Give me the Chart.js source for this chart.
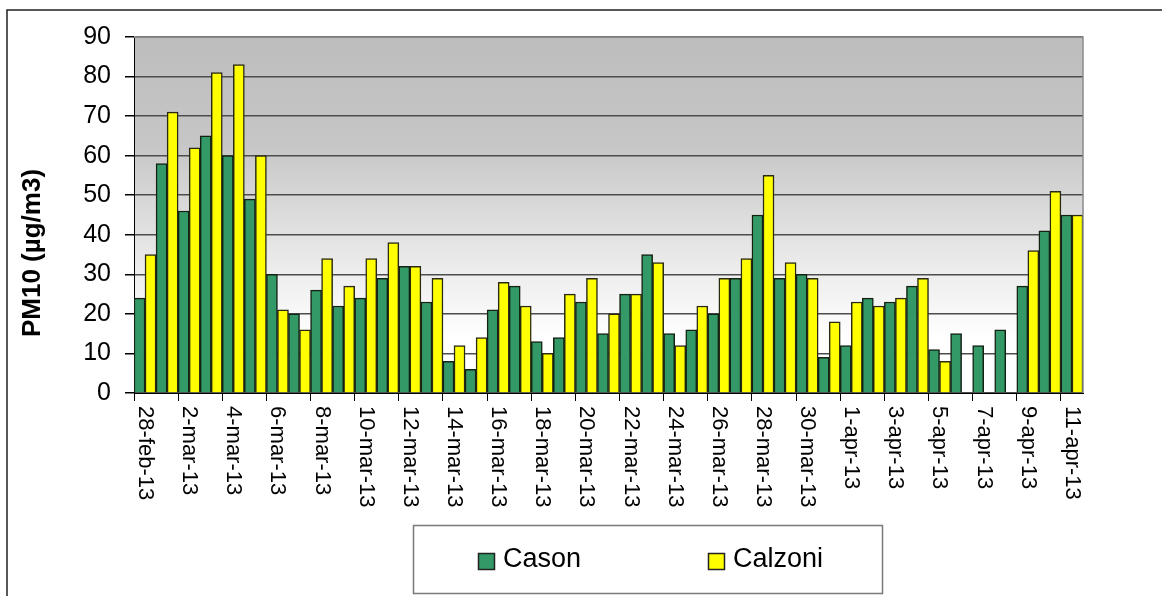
<!DOCTYPE html>
<html>
<head>
<meta charset="utf-8">
<title>PM10 Cason / Calzoni</title>
<script src="https://cdn.jsdelivr.net/npm/chart.js@4.4.1/dist/chart.umd.min.js"></script>
<style>
  html, body { margin: 0; padding: 0; background: #fff; }
  canvas { display: block; }
</style>
</head>
<body>
<canvas id="pmChart" width="1162" height="596"></canvas>
<script>
const categories = [
  '28-feb-13', '1-mar-13', '2-mar-13', '3-mar-13', '4-mar-13', '5-mar-13', '6-mar-13',
  '7-mar-13', '8-mar-13', '9-mar-13', '10-mar-13', '11-mar-13', '12-mar-13', '13-mar-13',
  '14-mar-13', '15-mar-13', '16-mar-13', '17-mar-13', '18-mar-13', '19-mar-13', '20-mar-13',
  '21-mar-13', '22-mar-13', '23-mar-13', '24-mar-13', '25-mar-13', '26-mar-13', '27-mar-13',
  '28-mar-13', '29-mar-13', '30-mar-13', '31-mar-13', '1-apr-13', '2-apr-13', '3-apr-13',
  '4-apr-13', '5-apr-13', '6-apr-13', '7-apr-13', '8-apr-13', '9-apr-13', '10-apr-13', '11-apr-13'
];
const casonValues = [
  24, 58, 46, 65, 60, 49, 30, 20, 26, 22, 24, 29, 32, 23, 8, 6, 21, 27, 13, 14, 23, 15,
  25, 35, 15, 16, 20, 29, 45, 29, 30, 9, 12, 24, 23, 27, 11, 15, 12, 16, 27, 41, 45
];
const calzoniValues = [
  35, 71, 62, 81, 83, 60, 21, 16, 34, 27, 34, 38, 32, 29, 12, 14, 28, 22, 10, 25, 29, 20,
  25, 33, 12, 22, 29, 34, 55, 33, 29, 18, 23, 22, 24, 29, 8, null, null, null, 36, 51, 45
];
const seriesNames = ['Cason', 'Calzoni'];
const yAxisTitle = 'PM10 (µg/m3)';
const yTickMin = 0, yTickMax = 90, yTickStep = 10;

const FONT = 'Arial, "Liberation Sans", sans-serif';
const GREEN = '#339966';
const YELLOW = '#ffff00';

// background, outer frame, gradient plot area
const backdrop = {
  id: 'backdrop',
  beforeDraw(chart) {
    const ctx = chart.ctx;
    const a = chart.chartArea;
    ctx.save();
    ctx.fillStyle = '#fff';
    ctx.fillRect(0, 0, chart.width, chart.height);
    const g = ctx.createLinearGradient(0, a.top, 0, a.bottom);
    g.addColorStop(0, '#bdbdbd');
    g.addColorStop(0.3, '#c6c6c6');
    g.addColorStop(0.65, '#ececec');
    g.addColorStop(0.85, '#ffffff');
    g.addColorStop(1, '#ffffff');
    ctx.fillStyle = g;
    ctx.fillRect(a.left, a.top, a.right - a.left, a.bottom - a.top);
    ctx.strokeStyle = '#222';
    ctx.lineWidth = 1.5;
    ctx.beginPath();
    ctx.moveTo(7, chart.height);
    ctx.lineTo(7, 10);
    ctx.lineTo(chart.width, 10);
    ctx.stroke();
    ctx.restore();
  }
};

// axis title, rotated date labels, plot border and the boxed legend
const extras = {
  id: 'extras',
  afterDraw(chart) {
    const ctx = chart.ctx;
    const a = chart.chartArea;
    const xs = chart.scales.x;
    ctx.save();
    ctx.strokeStyle = '#8a8a8a';
    ctx.lineWidth = 1.5;
    ctx.beginPath();
    ctx.moveTo(a.left, a.top);
    ctx.lineTo(a.right, a.top);
    ctx.lineTo(a.right, a.bottom);
    ctx.stroke();

    // y title
    ctx.fillStyle = '#000';
    ctx.font = 'bold 26px ' + FONT;
    ctx.textAlign = 'center';
    ctx.textBaseline = 'middle';
    ctx.save();
    ctx.translate(33, 253);
    ctx.rotate(-Math.PI / 2);
    ctx.fillText(yAxisTitle, 0, 0);
    ctx.restore();

    ctx.font = '22px ' + FONT;
    ctx.textAlign = 'left';
    categories.forEach((c, i) => {
      if (i % 2) return;
      ctx.save();
      ctx.translate(xs.getPixelForValue(i), xs.top + 13);
      ctx.rotate(Math.PI / 2);
      ctx.fillText(c, 0, 0);
      ctx.restore();
    });

    // legend
    ctx.strokeStyle = '#7a7a7a';
    ctx.lineWidth = 1.5;
    ctx.strokeRect(413.5, 525.5, 469, 68);
    const items = [
      { x: 478, ds: chart.data.datasets[0] },
      { x: 708, ds: chart.data.datasets[1] }
    ];
    ctx.font = '27px ' + FONT;
    items.forEach(it => {
      ctx.fillStyle = it.ds.backgroundColor;
      ctx.fillRect(it.x, 553, 16, 16);
      ctx.strokeStyle = '#222';
      ctx.lineWidth = 1.5;
      ctx.strokeRect(it.x + 0.5, 553.5, 16, 16);
      ctx.fillStyle = '#000';
      ctx.fillText(it.ds.label, it.x + 25, 560);
    });
    ctx.restore();
  }
};

new Chart(document.getElementById('pmChart').getContext('2d'), {
  type: 'bar',
  data: {
    labels: categories,
    datasets: [
      {
        label: seriesNames[0],
        data: casonValues,
        backgroundColor: GREEN,
        borderColor: '#142214',
        borderWidth: 1.5,
        categoryPercentage: 1,
        barPercentage: 1
      },
      {
        label: seriesNames[1],
        data: calzoniValues,
        backgroundColor: YELLOW,
        borderColor: '#2a2a14',
        borderWidth: 1.5,
        categoryPercentage: 1,
        barPercentage: 1
      }
    ]
  },
  options: {
    responsive: false,
    animation: false,
    layout: { padding: { top: 37, right: 79, left: 0, bottom: 0 } },
    plugins: {
      legend: { display: false },
      tooltip: { enabled: false }
    },
    scales: {
      x: {
        offset: true,
        grid: {
          offset: true,
          drawOnChartArea: false,
          tickLength: 8,
          lineWidth: 1,
          color: c => (c.index % 2 === 0 ? '#000' : 'rgba(0,0,0,0)')
        },
        border: { display: true, color: '#000', width: 1 },
        ticks: { display: false },
        afterFit: s => { s.height = 203; }
      },
      y: {
        min: yTickMin,
        max: yTickMax,
        ticks: {
          stepSize: yTickStep,
          color: '#000',
          font: { family: FONT, size: 25 },
          padding: 14
        },
        grid: {
          color: '#4d4d4d',
          lineWidth: 1.5,
          tickColor: '#000',
          tickLength: 9
        },
        border: { color: '#000', width: 1 },
        title: { display: false },
        afterFit: s => { s.width = 134; }
      }
    }
  },
  plugins: [backdrop, extras]
});
</script>
</body>
</html>
